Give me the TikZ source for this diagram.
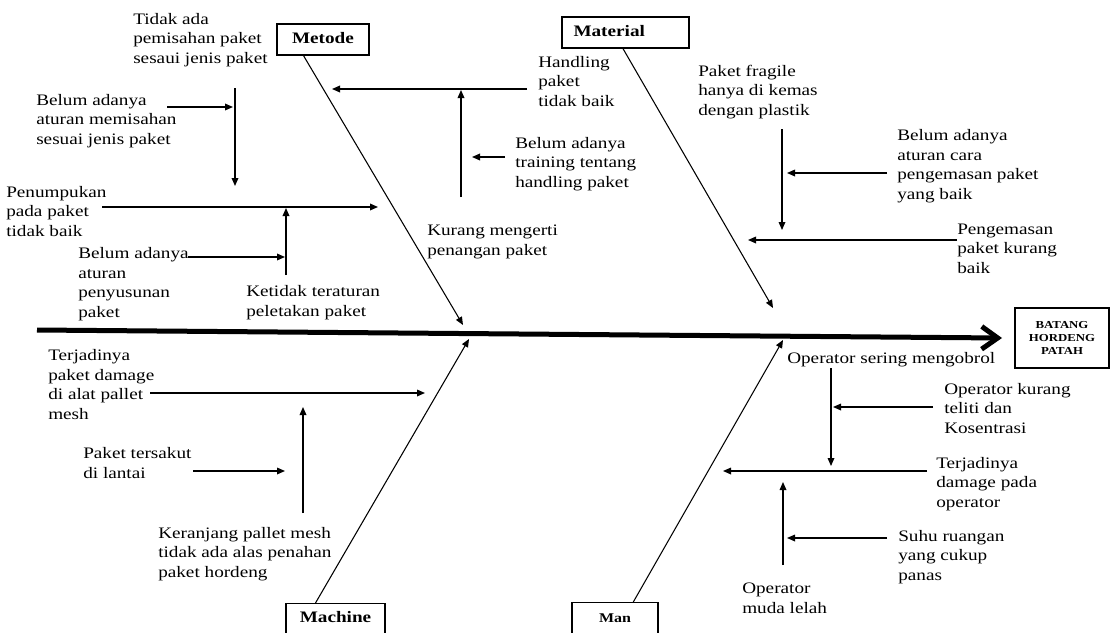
\documentclass[tikz,border=0pt]{standalone}
\usepackage{fontspec}
\setmainfont{Liberation Serif}[FakeStretch=1.2]
\usepackage{tikz}
\usetikzlibrary{arrows.meta, positioning, calc}
\newcommand{\lblfont}{\fontsize{12pt}{14.6pt}\selectfont}
\tikzset{
  lbl/.style={anchor=base west,align=left,inner sep=0pt,font=\lblfont},
  catbox/.style={rectangle,draw,line width=0.8pt,font=\lblfont\bfseries,inner sep=0pt,text height=8pt,text depth=2.5pt},
  effectbox/.style={rectangle,draw,line width=1.5pt,align=center,font=\fontsize{8pt}{10pt}\selectfont\bfseries,minimum width=70.5pt,minimum height=45pt},
  arr/.style={-{Triangle[length=6pt,width=5pt]},line width=0.9pt},
  bone/.style={arr,line width=0.8pt},
  spine/.style={-{Straight Barb[length=12pt,width=17pt]},line width=3.75pt}
}

\begin{document}
\begin{tikzpicture}[x=0.75pt,y=-0.75pt]
  \clip (0,0) rectangle (1110,632);

  %% Effect and category boxes
  \node[effectbox] (effect) at (1062,338) {BATANG\\HORDENG\\PATAH};
  \node[catbox,minimum width=69pt,minimum height=23.25pt] (metode) at (323,39.5) {Metode};
  \node[catbox,minimum width=95.25pt,minimum height=23.25pt,text width=78pt,align=left,
        inner xsep=8.25pt] (material) at (625.5,32.5) {Material};
  \node[catbox,anchor=north,minimum width=74.25pt,inner ysep=3pt,
        text height=11.25pt,text depth=18pt] (machine) at (335.5,603) {Machine};
  \node[catbox,anchor=north,minimum width=64.5pt,inner ysep=3pt,font=\fontsize{10pt}{12pt}\selectfont\bfseries,
        text height=12pt,text depth=18pt] (man) at (615,602) {Man};

  %% Metode labels (placed at the baseline of the last line)
  \node[lbl] (tidakAda) at (133,63) {Tidak ada\\pemisahan paket\\sesaui jenis paket};
  \node[lbl] (aturanPisah) at (36,144) {Belum adanya\\aturan memisahan\\sesuai jenis paket};
  \node[lbl] (tumpuk) at (6,236) {Penumpukan\\pada paket\\tidak baik};
  \node[lbl] (aturanSusun) at (78,317) {Belum adanya\\aturan\\penyusunan\\paket};
  \node[lbl] (tidakTeratur) at (246,316) {Ketidak teraturan\\peletakan paket};
  \node[lbl] (handling) at (538,106) {Handling\\paket\\tidak baik};
  \node[lbl] (training) at (515,187) {Belum adanya\\training tentang\\handling paket};
  \node[lbl] (kurang) at (427,255) {Kurang mengerti\\penangan paket};

  %% Material labels
  \node[lbl] (fragile) at (698,115) {Paket fragile\\hanya di kemas\\dengan plastik};
  \node[lbl] (aturanKemas) at (897,199) {Belum adanya\\aturan cara\\pengemasan paket\\yang baik};
  \node[lbl] (kemas) at (957,273) {Pengemasan\\paket kurang\\baik};

  %% Machine labels
  \node[lbl] (damagePallet) at (48,419) {Terjadinya\\paket damage\\di alat pallet\\mesh};
  \node[lbl] (tersakut) at (83,478) {Paket tersakut\\di lantai};
  \node[lbl] (keranjang) at (158,577) {Keranjang pallet mesh\\tidak ada alas penahan\\paket hordeng};

  %% Man labels
  \node[lbl] (ngobrol) at (787,363) {Operator sering mengobrol};
  \node[lbl] (teliti) at (944,433) {Operator kurang\\teliti dan\\Kosentrasi};
  \node[lbl] (damageOp) at (936,507) {Terjadinya\\damage pada\\operator};
  \node[lbl] (suhu) at (898,580) {Suhu ruangan\\yang cukup\\panas};
  \node[lbl] (lelah) at (742,613) {Operator\\muda lelah};

  %% Spine and bones
  \coordinate (tail) at (37,330);
  \coordinate (mtTip) at (463,325);
  \coordinate (maTip) at (773,308);
  \coordinate (mcTip) at (469,339);
  \coordinate (mnTip) at (783,340);
  \draw[spine] (tail) -- ([xshift=-9pt]effect.west);
  \draw[bone] ($(metode.south west)!0.29!(metode.south east)$) -- (mtTip);
  \draw[bone] ($(material.south west)!0.48!(material.south east)$) -- (maTip);
  \draw[bone] ($(machine.north west)!0.3!(machine.north east)$) -- (mcTip);
  \draw[bone] ($(man.north west)!0.71!(man.north east)$) -- (mnTip);

  %% Metode arrows
  \coordinate (hdS) at (527,89);   \coordinate (hdE) at (332,89);
  \coordinate (kuS) at (461,197);  \coordinate (kuE) at (461,90);
  \coordinate (trS) at (505,157);  \coordinate (trE) at (472,157);
  \coordinate (taS) at (235,88);   \coordinate (taE) at (235,186);
  \coordinate (apS) at (167,107);  \coordinate (apE) at (233,107);
  \coordinate (tpS) at (102,207);  \coordinate (tpE) at (378,207);
  \coordinate (ttS) at (286,275);  \coordinate (ttE) at (286,208);
  \coordinate (asS) at (188,257);  \coordinate (asE) at (285,257);
  \draw[arr] (hdS) -- (hdE);
  \draw[arr] (kuS) -- (kuE);
  \draw[arr] (trS) -- (trE);
  \draw[arr] (taS) -- (taE);
  \draw[arr] (apS) -- (apE);
  \draw[arr] (tpS) -- (tpE);
  \draw[arr] (ttS) -- (ttE);
  \draw[arr] (asS) -- (asE);

  %% Material arrows
  \coordinate (frS) at (782,129);  \coordinate (frE) at (782,230);
  \coordinate (akS) at (887,173);  \coordinate (akE) at (787,173);
  \coordinate (kmS) at (957,240);  \coordinate (kmE) at (748,240);
  \draw[arr] (frS) -- (frE);
  \draw[arr] (akS) -- (akE);
  \draw[arr] (kmS) -- (kmE);

  %% Machine arrows
  \coordinate (dpS) at (150,393);  \coordinate (dpE) at (425,393);
  \coordinate (krS) at (303,513);  \coordinate (krE) at (303,407);
  \coordinate (tsS) at (193,471);  \coordinate (tsE) at (285,471);
  \draw[arr] (dpS) -- (dpE);
  \draw[arr] (krS) -- (krE);
  \draw[arr] (tsS) -- (tsE);

  %% Man arrows
  \coordinate (ngS) at (831,368);  \coordinate (ngE) at (831,466);
  \coordinate (tlS) at (933,407);  \coordinate (tlE) at (833,407);
  \coordinate (doS) at (927,471);  \coordinate (doE) at (723,471);
  \coordinate (llS) at (783,565);  \coordinate (llE) at (783,482);
  \coordinate (shS) at (887,538);  \coordinate (shE) at (787,538);
  \draw[arr] (ngS) -- (ngE);
  \draw[arr] (tlS) -- (tlE);
  \draw[arr] (doS) -- (doE);
  \draw[arr] (llS) -- (llE);
  \draw[arr] (shS) -- (shE);
\end{tikzpicture}
\end{document}
